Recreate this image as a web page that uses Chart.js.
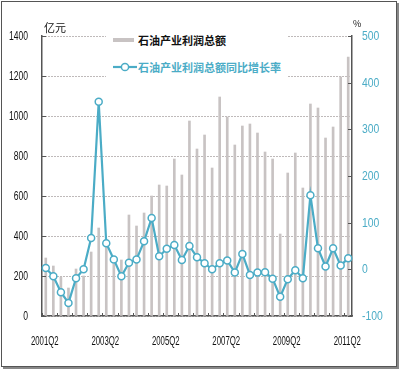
<!DOCTYPE html>
<html><head><meta charset="utf-8">
<script src="https://cdn.jsdelivr.net/npm/chart.js@4.4.1/dist/chart.umd.min.js"></script>
<style>
html,body{margin:0;padding:0;background:#fff;}
#wrap{position:relative;width:400px;height:370px;overflow:hidden;background:#fff;}
#c{position:absolute;left:0;top:0;}
.frame{position:absolute;left:1px;top:1px;width:394px;height:364px;border:1px solid #555;box-shadow:2px 2px 0 #888;pointer-events:none;}
.txt{position:absolute;font-family:"Noto Sans CJK SC","Noto Sans",sans-serif;white-space:nowrap;line-height:1;}
#legend{position:absolute;left:106px;top:26px;width:182px;height:54px;background:#fff;}
</style></head>
<body>
<div id="wrap">
<canvas id="c" width="400" height="370"></canvas>
<div id="legend">
  <div style="position:absolute;left:7px;top:12px;width:21px;height:4px;background:#c8c3c3;"></div>
  <div class="txt" style="left:32px;top:9px;font-size:11px;font-weight:600;color:#111;">石油产业利润总额</div>
  <svg style="position:absolute;left:6px;top:35px;" width="26" height="12"><line x1="1" y1="6" x2="25" y2="6" stroke="#4bacc6" stroke-width="2.2"/><circle cx="13" cy="6" r="3.6" fill="#fff" stroke="#4bacc6" stroke-width="1.5"/></svg>
  <div class="txt" style="left:32px;top:36px;font-size:11px;font-weight:600;color:#4bacc6;">石油产业利润总额同比增长率</div>
</div>
<div class="txt" style="left:44px;top:22px;font-size:11px;color:#111;">亿元</div>
<div class="txt" style="left:353px;top:19px;font-size:9px;color:#111;">%</div>
<div class="frame"></div>
</div>
<script>
const categories = ["2001Q2","2001Q3","2001Q4","2002Q1","2002Q2","2002Q3","2002Q4","2003Q1","2003Q2","2003Q3","2003Q4","2004Q1","2004Q2","2004Q3","2004Q4","2005Q1","2005Q2","2005Q3","2005Q4","2006Q1","2006Q2","2006Q3","2006Q4","2007Q1","2007Q2","2007Q3","2007Q4","2008Q1","2008Q2","2008Q3","2008Q4","2009Q1","2009Q2","2009Q3","2009Q4","2010Q1","2010Q2","2010Q3","2010Q4","2011Q1","2011Q2"];
const profitTotal = [290,250,195,140,235,200,320,440,350,260,280,505,450,515,600,655,650,785,705,975,835,905,740,1095,995,855,950,960,915,820,785,410,715,815,640,1060,1040,890,945,1195,1295];
const profitGrowth = [3,-15,-49,-72,-19,0,67,359,56,21,-15,14,21,60,110,28,44,52,20,50,26,13,0,13,19,-7,33,-12,-7,-6,-20,-59,-21,-2,-19,159,45,6,45,8,24];
const leftTicks = [0,200,400,600,800,1000,1200,1400];
const rightTicks = [-100,0,100,200,300,400,500];
const xTickLabels = ["2001Q2","2003Q2","2005Q2","2007Q2","2009Q2","2011Q2"];
const barLabel = "石油产业利润总额";
const lineLabel = "石油产业利润总额同比增长率";

const TEAL = '#4bacc6';

// narrow tick labels (condensed horizontally) drawn at the library's scale positions
function narrowText(ctx, txt, x, y, sx, align) {
  ctx.save();
  ctx.translate(x, y);
  ctx.scale(sx, 1);
  ctx.textAlign = align;
  ctx.fillText(txt, 0, 0);
  ctx.restore();
}

const axisDecor = {
  id: 'axisDecor',
  afterDraw(chart) {
    const ctx = chart.ctx, a = chart.chartArea;
    const y = chart.scales.y, y1 = chart.scales.y1, x = chart.scales.x;
    ctx.save();
    ctx.strokeStyle = '#555';
    ctx.lineWidth = 1;
    leftTicks.forEach(v => { const p = Math.round(y.getPixelForValue(v)) + 0.5; ctx.beginPath(); ctx.moveTo(a.left, p); ctx.lineTo(a.left + 4, p); ctx.stroke(); });
    rightTicks.forEach(v => { const p = Math.round(y1.getPixelForValue(v)) + 0.5; ctx.beginPath(); ctx.moveTo(a.right, p); ctx.lineTo(a.right - 4, p); ctx.stroke(); });
    const n = categories.length, w = (a.right - a.left) / n;
    for (let k = 0; k <= n; k += 2) { const p = Math.round(a.left + k * w) + 0.5; ctx.beginPath(); ctx.moveTo(p, a.bottom); ctx.lineTo(p, a.bottom - 3); ctx.stroke(); }

    ctx.font = "13px 'Liberation Sans', Arial, sans-serif";
    ctx.textBaseline = 'middle';
    ctx.fillStyle = '#111';
    leftTicks.forEach(v => narrowText(ctx, String(v), a.left - 14, y.getPixelForValue(v) + 0.5, 0.66, 'right'));
    xTickLabels.forEach(l => narrowText(ctx, l, x.getPixelForValue(categories.indexOf(l)) - 1, a.bottom + 25, 0.6, 'center'));
    ctx.fillStyle = TEAL;
    rightTicks.forEach(v => narrowText(ctx, String(v), a.right + 10, y1.getPixelForValue(v) + 0.5, 0.8, 'left'));
    ctx.restore();
  }
};

new Chart(document.getElementById('c'), {
  data: {
    labels: categories,
    datasets: [
      {type: 'line', label: lineLabel, data: profitGrowth, yAxisID: 'y1', order: 0,
       borderColor: TEAL, borderWidth: 2.2, backgroundColor: '#fff',
       pointRadius: 3.5, pointBorderWidth: 1.5, pointBackgroundColor: '#fff', pointBorderColor: TEAL, tension: 0},
      {type: 'bar', label: barLabel, data: profitTotal, yAxisID: 'y', order: 1,
       backgroundColor: '#c8c3c3', barThickness: 2}
    ]
  },
  options: {
    responsive: false, animation: false, maintainAspectRatio: false,
    layout: {padding: {top: 36, left: 0, right: 0, bottom: 0}},
    plugins: {legend: {display: false}, tooltip: {enabled: false}},
    scales: {
      x: {
        offset: true,
        grid: {display: false, drawTicks: false},
        border: {display: true, color: '#555', width: 1.5},
        ticks: {display: false},
        afterFit: s => { s.height = 54; }
      },
      y: {
        position: 'left', min: 0, max: 1400,
        afterBuildTicks: s => { s.ticks = leftTicks.map(v => ({value: v})); },
        grid: {color: '#7f7575', lineWidth: 1, drawTicks: false},
        border: {display: true, color: '#555', width: 1.5, dash: [1, 2]},
        ticks: {display: false},
        afterFit: s => { s.width = 42; }
      },
      y1: {
        position: 'right', min: -100, max: 500,
        afterBuildTicks: s => { s.ticks = rightTicks.map(v => ({value: v})); },
        grid: {display: false, drawTicks: false},
        border: {display: true, color: '#555', width: 1.5},
        ticks: {display: false},
        afterFit: s => { s.width = 48; }
      }
    }
  },
  plugins: [axisDecor]
});
</script>
</body></html>
